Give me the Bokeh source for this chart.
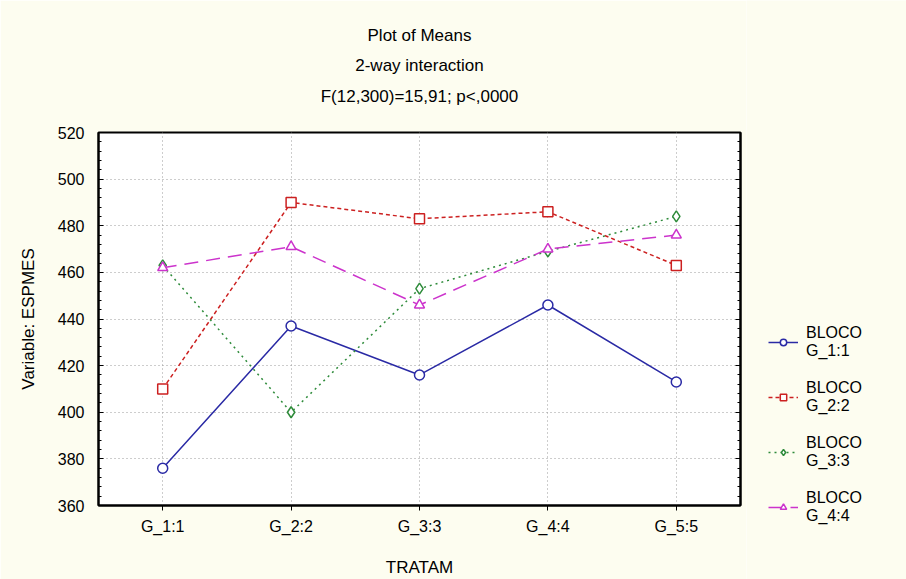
from bokeh.plotting import figure
from bokeh.layouts import row, column
from bokeh.models import (FactorRange, Range1d, LinearAxis, SingleIntervalTicker,
                          Legend, LegendItem, Title, CustomJSTickFormatter)
from bokeh.embed import file_html
from bokeh.resources import INLINE

tratam = ["G_1:1", "G_2:2", "G_3:3", "G_4:4", "G_5:5"]
bloco_g1 = [376, 437, 416, 446, 413]
bloco_g2 = [410, 490, 483, 486, 463]
bloco_g3 = [463, 400, 453, 469, 484]
bloco_g4 = [462, 471, 446, 470, 476]
series_labels = ["BLOCO\nG_1:1", "BLOCO\nG_2:2", "BLOCO\nG_3:3", "BLOCO\nG_4:4"]
title_lines = ["Plot of Means", "2-way interaction", "F(12,300)=15,91; p<,0000"]

FONT = "Liberation Sans"
BG = "#FDFDF0"

xr = FactorRange(*tratam)
yr = Range1d(360, 520)

p = figure(width=746, height=579, x_range=xr, y_range=yr,
           output_backend="svg", toolbar_location=None,
           min_border_left=98, min_border_right=6, min_border_top=132, min_border_bottom=71)
p.title = None
p.border_fill_color = BG
p.background_fill_color = "white"
p.outline_line_color = "black"
p.outline_line_width = 2

# axes
p.yaxis.ticker = SingleIntervalTicker(interval=20, num_minor_ticks=5)
p.yaxis.major_tick_in = 5
p.yaxis.major_tick_out = 0
p.yaxis.minor_tick_in = 3
p.yaxis.minor_tick_out = 0
p.yaxis.major_label_standoff = 14
p.yaxis.axis_label = "Variable: ESPMES"
p.yaxis.axis_label_standoff = 17
p.xaxis.axis_label = "TRATAM"
p.xaxis.major_tick_in = 0
p.xaxis.major_tick_out = 5
p.xaxis.major_label_standoff = 7
p.xaxis.axis_label_standoff = 20
for ax in [p.xaxis[0], p.yaxis[0]]:
    ax.axis_line_color = "black"
    ax.axis_line_width = 2
    ax.major_tick_line_color = "black"
    ax.minor_tick_line_color = "black"
    ax.major_label_text_font = FONT
    ax.major_label_text_font_size = "16px"
    ax.major_label_text_color = "black"
    ax.axis_label_text_font = FONT
    ax.axis_label_text_font_size = "17px"
    ax.axis_label_text_font_style = "normal"
    ax.axis_label_text_color = "black"

ax_r = LinearAxis(ticker=SingleIntervalTicker(interval=20, num_minor_ticks=5),
                  formatter=CustomJSTickFormatter(code="return ''"),
                  major_tick_in=5, major_tick_out=0, minor_tick_in=3, minor_tick_out=0,
                  major_label_standoff=0, axis_line_color="black", axis_line_width=2)
p.add_layout(ax_r, "right")

# grid
for g in [p.xgrid[0], p.ygrid[0]]:
    g.grid_line_color = "#9a9a9a"
    g.grid_line_dash = "1 3"
    g.grid_line_width = 1

# series
specs = [
    (bloco_g1, "#2A2AA5", "solid", "circle", 10),
    (bloco_g2, "#CC2020", "4 3", "square", 10),
    (bloco_g3, "#2E8B3A", "2 4", "diamond", 11),
    (bloco_g4, "#CC33CC", "14 8", "triangle", 10),
]
for vals, col, dash, mk, sz in specs:
    p.line(tratam, vals, line_color=col, line_width=1.5, line_dash=dash)
    p.scatter(tratam, vals, marker=mk, size=sz, line_color=col, line_width=1.5,
              fill_color="white")

# title lines: a blank spacer next to the frame, then the three lines stacked upward
title_kw = dict(align="center", text_font=FONT, text_font_size="17px",
                text_font_style="normal", text_color="black")
p.add_layout(Title(text=" ", standoff=1, **title_kw), "above")
for t, s in zip(reversed(title_lines), [10, 10, 8]):
    p.add_layout(Title(text=t, standoff=s, **title_kw), "above")

# legend panel (separate figure sharing the ranges, same background)
q = figure(width=160, height=579, x_range=xr, y_range=yr,
           output_backend="svg", toolbar_location=None, x_axis_type=None, y_axis_type=None,
           min_border=0, min_border_left=0, min_border_right=0, min_border_top=0,
           min_border_bottom=0)
q.title = None
q.border_fill_color = BG
q.background_fill_color = BG
q.outline_line_color = None
q.grid.visible = False
items = []
for (vals, col, dash, mk, sz), lab in zip(specs, series_labels):
    lr = q.line(tratam, vals, line_color=col, line_width=1.5, line_dash=dash, visible=False)
    sr = q.scatter(tratam, vals, marker=mk, size=sz, line_color=col, line_width=1.5,
                   fill_color="white", visible=False)
    items.append(LegendItem(label=lab, renderers=[lr, sr]))
legend = Legend(items=items, location=(22, 54), glyph_width=30, glyph_height=16,
                label_standoff=8, spacing=19, padding=0, margin=0,
                border_line_alpha=0, background_fill_alpha=0,
                label_text_font=FONT, label_text_font_size="16px", label_text_color="black")
q.add_layout(legend, "center")

open("out.html", "w").write(file_html(row(p, column(q)), INLINE))
